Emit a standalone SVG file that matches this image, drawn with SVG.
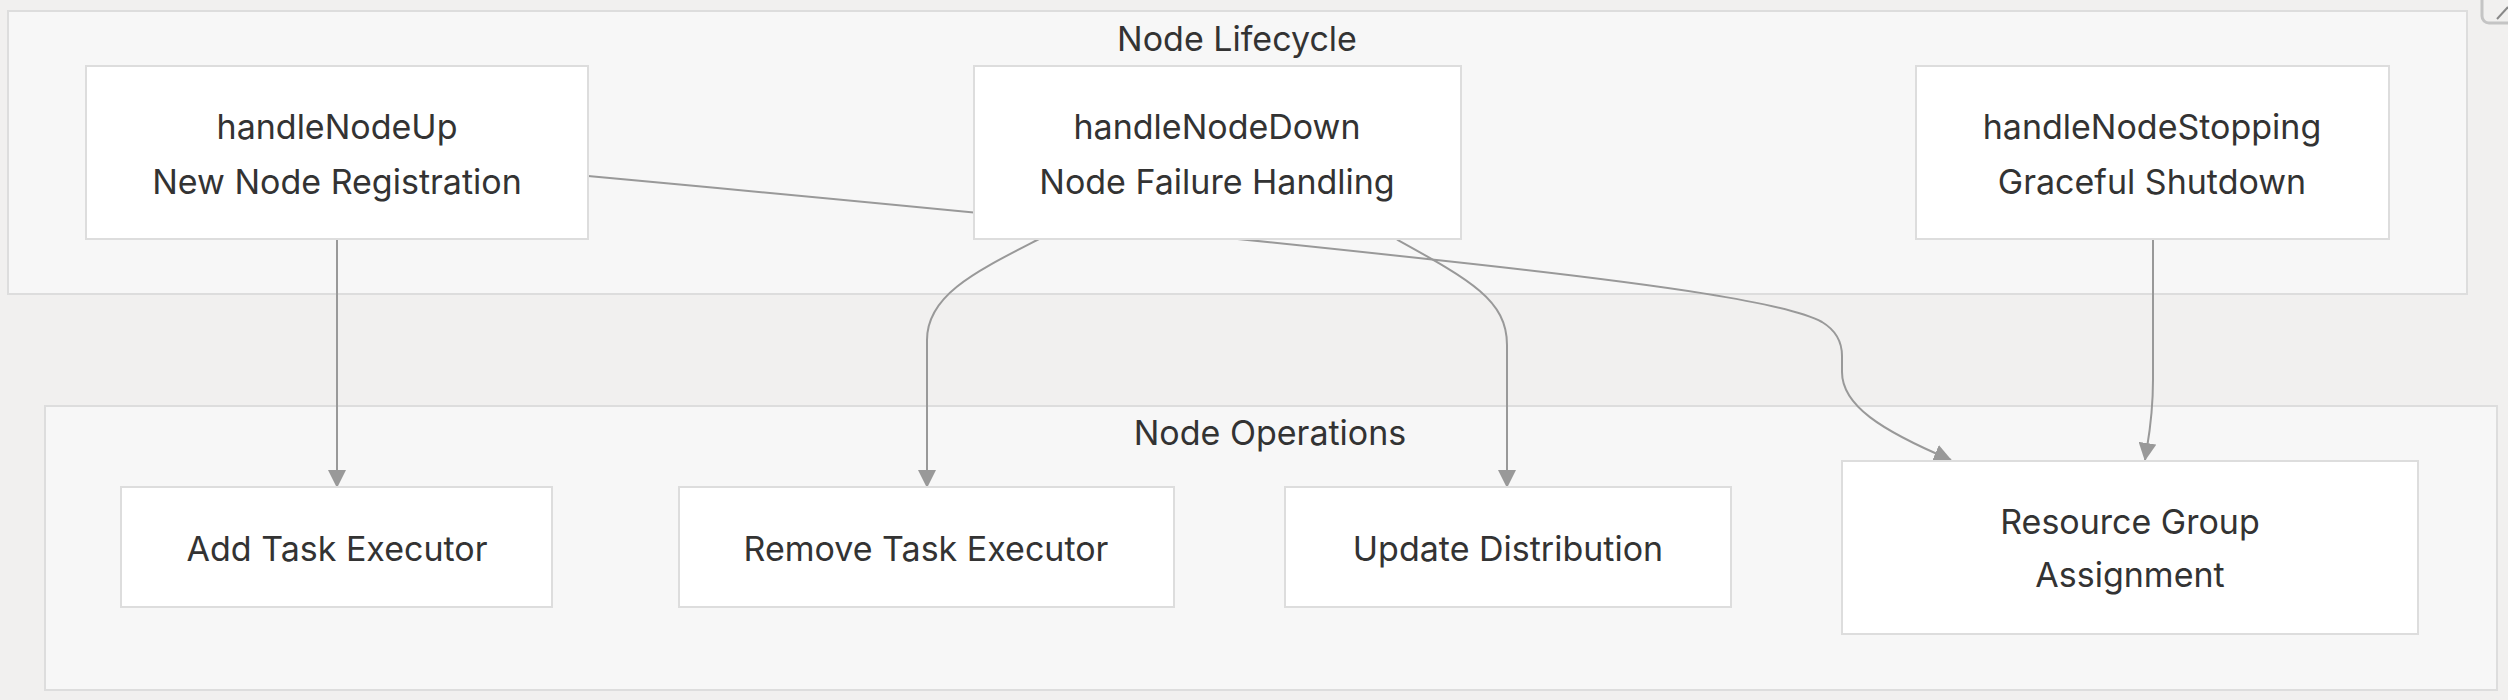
<svg xmlns="http://www.w3.org/2000/svg" width="2508" height="700" viewBox="0 0 2508 700">
<defs>
<marker id="arrow" viewBox="0 0 18 18" refX="17" refY="9" markerWidth="18" markerHeight="18" markerUnits="userSpaceOnUse" orient="auto">
<path d="M0,0 L18,9 L0,18 Z" fill="#999999"/>
</marker>
<style>
.cluster{fill:#f7f7f7;stroke:#dddddd;stroke-width:2}
.node rect{fill:#ffffff;stroke:#dddddd;stroke-width:2}
text{font-family:Inter,"Liberation Sans",Arial,sans-serif;font-size:34px;fill:#333333;text-anchor:middle}
.edge{fill:none;stroke:#999999;stroke-width:2;marker-end:url(#arrow)}
</style>
</defs>
<rect x="0" y="0" width="2508" height="700" fill="#f1f0ef"/>
<g id="ui-corner">
<rect x="2482" y="-20" width="44" height="43" rx="7" fill="none" stroke="#c4c4c4" stroke-width="3"/>
<line x1="2497" y1="19" x2="2508" y2="7" stroke="#888" stroke-width="2"/>
</g>
<g id="cluster-lifecycle">
<rect class="cluster" x="8" y="11" width="2459" height="283"/>
<text x="1237" y="51">Node Lifecycle</text>
</g>
<g id="cluster-operations">
<rect class="cluster" x="45" y="406" width="2452" height="284"/>
<text x="1270" y="445">Node Operations</text>
</g>
<g id="connectors">
<path class="edge" d="M337,239 L337,487"/>
<path class="edge" d="M588,176 C892,204 1196,233 1500,267 C1650,284 1785,302 1822,322 Q1842,334 1842,356 L1842,372 C1842,405 1880,430 1951,460"/>
<path class="edge" d="M1039,239 C975,272 927,295 927,340 L927,487"/>
<path class="edge" d="M1396,239 C1470,280 1507,300 1507,345 L1507,487"/>
<path class="edge" d="M2153,239 L2153,380 C2153,420 2148,440 2145,460"/>
</g>
<g id="node-up" class="node">
<rect x="86" y="66" width="502" height="173"/>
<text x="337" y="139">handleNodeUp</text>
<text x="337" y="194">New Node Registration</text>
</g>
<g id="node-down" class="node">
<rect x="974" y="66" width="487" height="173"/>
<text x="1217" y="139">handleNodeDown</text>
<text x="1217" y="194">Node Failure Handling</text>
</g>
<g id="node-stopping" class="node">
<rect x="1916" y="66" width="473" height="173"/>
<text x="2152" y="139">handleNodeStopping</text>
<text x="2152" y="194">Graceful Shutdown</text>
</g>
<g id="node-add" class="node">
<rect x="121" y="487" width="431" height="120"/>
<text x="337" y="561">Add Task Executor</text>
</g>
<g id="node-remove" class="node">
<rect x="679" y="487" width="495" height="120"/>
<text x="926" y="561">Remove Task Executor</text>
</g>
<g id="node-update" class="node">
<rect x="1285" y="487" width="446" height="120"/>
<text x="1508" y="561">Update Distribution</text>
</g>
<g id="node-rga" class="node">
<rect x="1842" y="461" width="576" height="173"/>
<text x="2130" y="534">Resource Group</text>
<text x="2130" y="587">Assignment</text>
</g>
</svg>
